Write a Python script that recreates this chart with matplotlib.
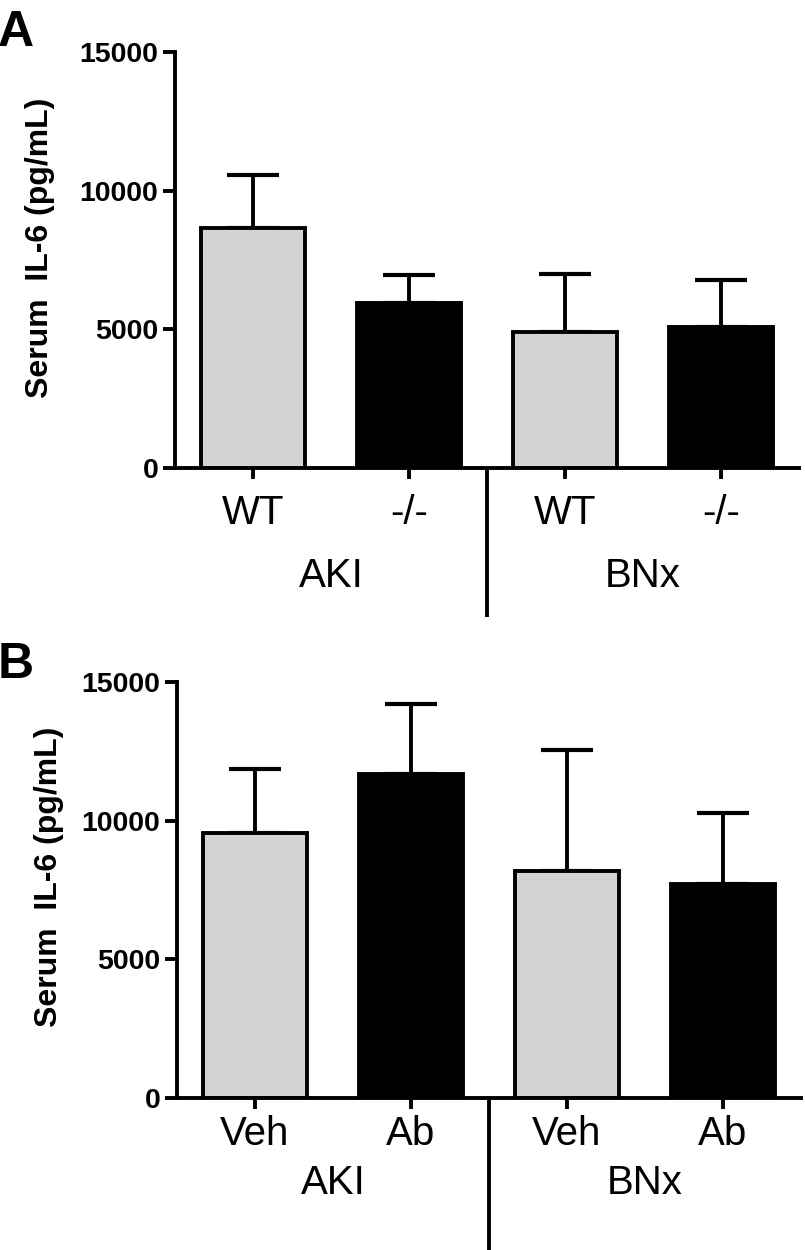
import matplotlib
matplotlib.use("Agg")
import matplotlib.pyplot as plt
import matplotlib.transforms as mtransforms
import numpy as np

plt.rcParams['font.family'] = ['Liberation Sans', 'DejaVu Sans']

# ---- data ----
groups = ["AKI", "BNx"]
labels_a = ["WT", "-/-", "WT", "-/-"]
means_a = [8650, 5950, 4900, 5100]
upper_a = [10550, 6950, 7000, 6770]

labels_b = ["Veh", "Ab", "Veh", "Ab"]
means_b = [9550, 11700, 8170, 7700]
upper_b = [11880, 14200, 12550, 10260]

colors = ["#D3D3D3", "#000000", "#D3D3D3", "#000000"]
yticks = [0, 5000, 10000, 15000]
ylabel = "Serum  IL-6 (pg/mL)"

W, H = 805, 1250
fig = plt.figure(figsize=(W / 100, H / 100), dpi=100)
LW = 2.8

def panel(rect, labels, means, upper, tickpad, grp_y, sep_bottom, letter, letter_xy, ylab_xy):
    ax = fig.add_axes(rect)
    x = np.arange(1, len(means) + 1)
    ax.bar(x, means, width=0.667, color=colors, edgecolor="black", linewidth=LW, zorder=2)
    err = [np.zeros(len(means)), np.array(upper) - np.array(means)]
    ax.errorbar(x, means, yerr=err, fmt="none", ecolor="black", elinewidth=LW,
                capsize=19, capthick=3.0, zorder=1)
    ax.set_xlim(0.5, 4.5)
    ax.set_ylim(0, 15000)
    ax.set_yticks(yticks)
    ax.set_yticklabels([str(t) for t in yticks], fontsize=20.5, fontweight="bold")
    ax.set_xticks(x)
    ax.set_xticklabels(labels, fontsize=29)
    ax.tick_params(axis="y", length=9, width=LW, pad=3)
    ax.tick_params(axis="x", length=8, width=LW, pad=tickpad)
    for s in ["top", "right"]:
        ax.spines[s].set_visible(False)
    for s in ["left", "bottom"]:
        ax.spines[s].set_linewidth(LW)
    trans = mtransforms.blended_transform_factory(ax.transData, ax.transAxes)
    ax.text(1.5, grp_y, groups[0], transform=trans, ha="center", va="center", fontsize=29)
    ax.text(3.5, grp_y, groups[1], transform=trans, ha="center", va="center", fontsize=29)
    ax.plot([2.5, 2.5], [0, sep_bottom], transform=trans, color="black", lw=LW,
            clip_on=False, solid_capstyle="butt")
    fig.text(letter_xy[0], letter_xy[1], letter, fontsize=36, fontweight="bold",
             ha="left", va="top")
    fig.text(ylab_xy[0], ylab_xy[1], ylabel, rotation=90, fontsize=23,
             fontweight="bold", ha="center", va="center")
    return ax

panel([175 / W, 1 - 468 / H, 624 / W, 416 / H], labels_a, means_a, upper_a,
      tickpad=11, grp_y=-0.26, sep_bottom=-0.358, letter="A",
      letter_xy=(-2 / W, 1 - 10 / H), ylab_xy=(40 / W, 1 - 248 / H))
panel([177 / W, 1 - 1098 / H, 624 / W, 416 / H], labels_b, means_b, upper_b,
      tickpad=4, grp_y=-0.204, sep_bottom=-0.37, letter="B",
      letter_xy=(-2 / W, 1 - 642 / H), ylab_xy=(49 / W, 1 - 877 / H))

fig.savefig("out.png", dpi=100)
